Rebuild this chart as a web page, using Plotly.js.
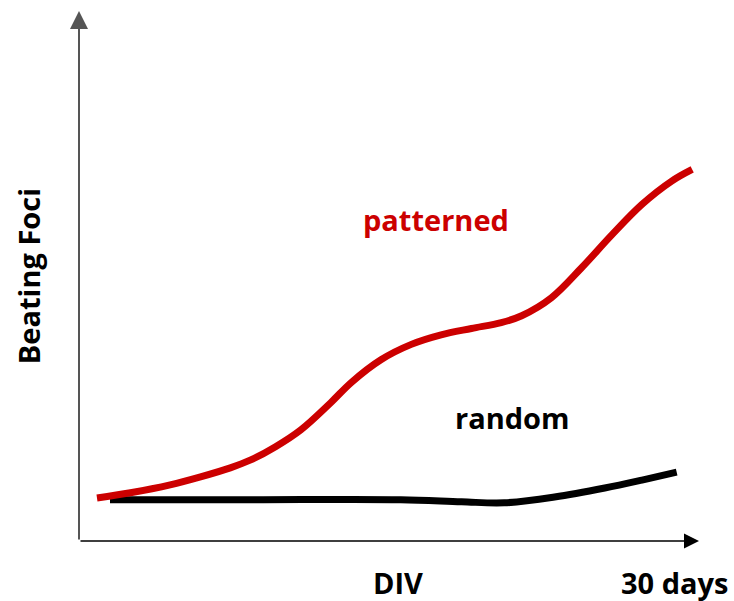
<!DOCTYPE html>
<html>
<head>
<meta charset="utf-8">
<script src="https://cdn.plot.ly/plotly-3.0.1.min.js"></script>
<style>html,body{margin:0;padding:0;background:#fff;}#chart{width:734px;height:601px;}</style>
</head>
<body>
<div id="chart"></div>
<script>
// Schematic data (relative units, x: 0-100 across axis, y: 0-100 up the axis)
const patternedX = [2.9, 8.3, 14.7, 19.6, 24.4, 27.7, 31.7, 35.8, 40.6, 43.9, 48.7, 53.6, 58.4, 63.3, 68.1, 71.4, 76.2, 81.1, 85.9, 90.8, 95.6, 98.9];
const patternedY = [8.1, 9.1, 10.6, 12.1, 13.8, 15.3, 17.8, 21.0, 26.1, 29.9, 34.2, 37.1, 38.9, 40.1, 41.2, 42.5, 45.9, 51.6, 57.7, 63.5, 67.9, 70.1];
const randomX = [5.0, 27.7, 51.9, 61.7, 68.6, 76.7, 84.8, 90.8, 96.4];
const randomY = [7.8, 7.8, 7.8, 7.4, 7.2, 8.3, 10.0, 11.5, 13.0];
const seriesNames = ["patterned", "random"];
const yTitle = "Beating Foci";
const xLabel = "DIV";
const xEndLabel = "30 days";

const FONT = "'Open Sans', 'Liberation Sans', sans-serif";

const traces = [
  {x: randomX, y: randomY, mode: "lines", name: seriesNames[1],
   line: {color: "#000000", width: 7, shape: "spline", smoothing: 1}},
  {x: patternedX, y: patternedY, mode: "lines", name: seriesNames[0],
   line: {color: "#cc0000", width: 7, shape: "spline", smoothing: 1}}
];

const hiddenAxis = {showgrid: false, zeroline: false, showticklabels: false, showline: false, ticks: "", fixedrange: true};

const layout = {
  width: 734, height: 601,
  margin: {l: 79, r: 35, t: 11, b: 60},
  paper_bgcolor: "#ffffff", plot_bgcolor: "#ffffff",
  showlegend: false,
  xaxis: Object.assign({range: [0, 100]}, hiddenAxis),
  yaxis: Object.assign({range: [0, 100]}, hiddenAxis),
  annotations: [
    // y axis with arrow
    {xref: "paper", yref: "paper", x: 0, y: 1, ax: 0, ay: 530,
     text: "", showarrow: true, arrowhead: 2, arrowsize: 1.8, arrowwidth: 2, arrowcolor: "#555555"},
    // x axis with arrow
    {xref: "paper", yref: "paper", x: 1, y: 0, ax: -620, ay: 0,
     text: "", showarrow: true, arrowhead: 2, arrowsize: 2, arrowwidth: 1.5, arrowcolor: "#000000"},
    {xref: "paper", yref: "paper", x: -0.082, y: 0.50, text: "<b>" + yTitle + "</b>", textangle: -90,
     showarrow: false, font: {family: FONT, size: 29, color: "#000"}, xanchor: "center", yanchor: "middle"},
    {xref: "x", yref: "paper", x: 51.5, y: -0.078, text: "<b>" + xLabel + "</b>", showarrow: false,
     font: {family: FONT, size: 29, color: "#000"}, yanchor: "middle"},
    {xref: "x", yref: "paper", x: 96, y: -0.078, text: "<b>" + xEndLabel + "</b>", showarrow: false,
     font: {family: FONT, size: 29, color: "#000"}, yanchor: "middle"},
    {xref: "x", yref: "y", x: 57.6, y: 60.6, text: "<b>" + seriesNames[0] + "</b>", showarrow: false,
     font: {family: FONT, size: 29, color: "#cc0000"}},
    {xref: "x", yref: "y", x: 69.9, y: 23.3, text: "<b>" + seriesNames[1] + "</b>", showarrow: false,
     font: {family: FONT, size: 29, color: "#000000"}}
  ]
};

Plotly.newPlot("chart", traces, layout, {displayModeBar: false, staticPlot: true});
</script>
</body>
</html>
